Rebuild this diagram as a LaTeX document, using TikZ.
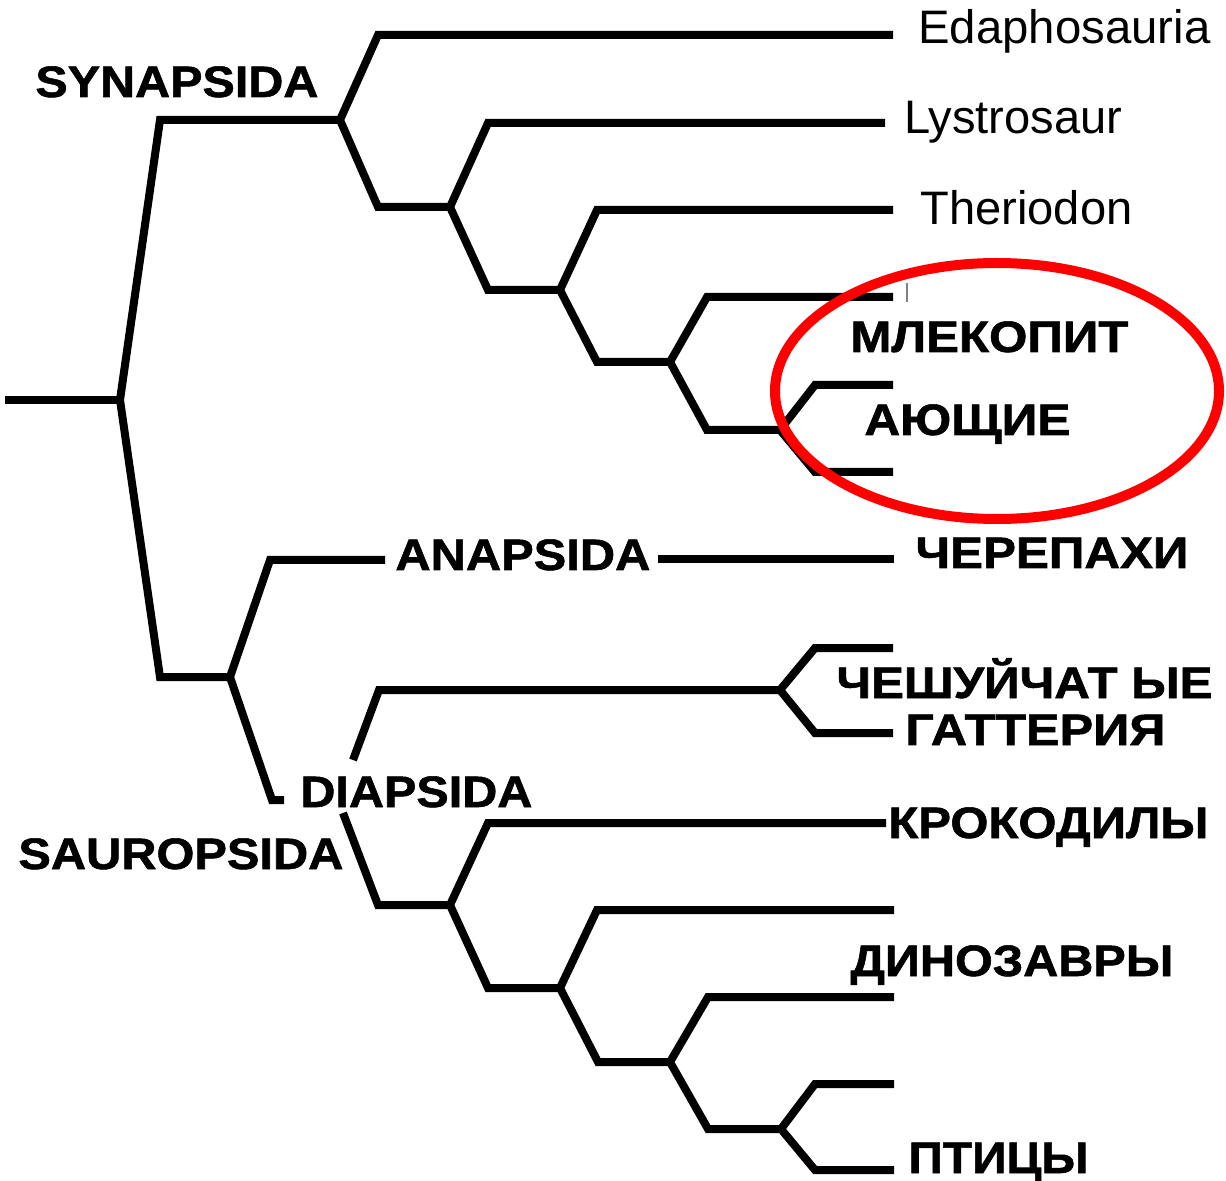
\documentclass[tikz,border=0pt]{standalone}
\usepackage{fontspec}
\setmainfont{Liberation Sans}
\newfontfamily\heavyfont[FakeBold=1.2]{Liberation Sans Bold}
\usepackage{graphicx}
\newcommand\lab[2]{\resizebox{#1pt}{\height}{#2}}
\tikzset{
  br/.style={line width=4pt, line join=miter, line cap=butt},
  reg/.style={anchor=base west, inner sep=0pt, font=\fontsize{23.5pt}{23.5pt}\selectfont},
  bld/.style={anchor=base west, inner sep=0pt, font=\fontsize{22pt}{22pt}\heavyfont},
  ring/.style={draw=red, line width=5pt}
}
\begin{document}
\begin{tikzpicture}[x=0.5pt,y=-0.5pt]
\useasboundingbox (0,0) rectangle (1226,1181);
% ---------- coordinates (px, y down)
\coordinate (r0) at (5,400);   \coordinate (n0) at (120,400);
\coordinate (s1) at (160,120); \coordinate (n1) at (340,120);
\coordinate (s2) at (160,677); \coordinate (n2) at (230,677);
% synapsida
\coordinate (a1) at (378,35);  \coordinate (t1) at (893,35);
\coordinate (b1) at (378,207); \coordinate (n3) at (450,207);
\coordinate (a2) at (488,123); \coordinate (t2) at (885,123);
\coordinate (b2) at (488,290); \coordinate (n4) at (560,290);
\coordinate (a3) at (597,210); \coordinate (t3) at (893,210);
\coordinate (b3) at (597,362); \coordinate (n5) at (670,362);
\coordinate (a4) at (707,297); \coordinate (t4) at (893,297);
\coordinate (b4) at (707,430); \coordinate (n6) at (780,430);
\coordinate (a5) at (815,385); \coordinate (t5) at (893,385);
\coordinate (b5) at (815,472); \coordinate (t6) at (893,472);
\coordinate (k1) at (907,283); \coordinate (k2) at (907,302);
% sauropsida
\coordinate (a6) at (270,560); \coordinate (e6) at (385,560);
\coordinate (f6) at (658,559); \coordinate (t7) at (894,559);
\coordinate (b6) at (272,800); \coordinate (d0) at (284,800);
\coordinate (d1) at (353,760); \coordinate (d2) at (343,813);
\coordinate (a7) at (379,690); \coordinate (n8) at (780,690);
\coordinate (a8) at (815,648); \coordinate (t8) at (893,648);
\coordinate (b8) at (815,733); \coordinate (t9) at (893,733);
\coordinate (b7) at (378,905); \coordinate (n9) at (450,905);
\coordinate (a9) at (488,823); \coordinate (t10) at (886,823);
\coordinate (b9) at (488,988); \coordinate (n10) at (560,988);
\coordinate (a10) at (597,910); \coordinate (t11) at (894,910);
\coordinate (b10) at (598,1062); \coordinate (n11) at (670,1062);
\coordinate (a11) at (708,997); \coordinate (t12) at (894,997);
\coordinate (b11) at (708,1129); \coordinate (n12) at (781,1129);
\coordinate (a12) at (815,1084); \coordinate (t13) at (894,1084);
\coordinate (b12) at (815,1170); \coordinate (t14) at (894,1170);
% ---------- branches
\draw[br] (r0) -- (n0);
\draw[br] (n1) -- (s1) -- (n0) -- (s2) -- (n2);
\draw[br] (t1) -- (a1) -- (n1) -- (b1) -- (n3);
\draw[br] (t2) -- (a2) -- (n3) -- (b2) -- (n4);
\draw[br] (t3) -- (a3) -- (n4) -- (b3) -- (n5);
\draw[br] (t4) -- (a4) -- (n5) -- (b4) -- (n6);
\draw[br] (t5) -- (a5) -- (n6) -- (b5) -- (t6);
\draw[gray, line width=0.6pt] (k1) -- (k2);
\draw[br] (e6) -- (a6) -- (n2) -- (b6) -- (d0);
\draw[br] (f6) -- (t7);
\draw[br] (d1) -- (a7) -- (n8);
\draw[br] (t8) -- (a8) -- (n8) -- (b8) -- (t9);
\draw[br] (d2) -- (b7) -- (n9);
\draw[br] (t10) -- (a9) -- (n9) -- (b9) -- (n10);
\draw[br] (t11) -- (a10) -- (n10) -- (b10) -- (n11);
\draw[br] (t12) -- (a11) -- (n11) -- (b11) -- (n12);
\draw[br] (t13) -- (a12) -- (n12) -- (b12) -- (t14);
% ---------- labels
\node[reg] (lEd) at (918,44)  {\lab{146}{Edaphosauria}};
\node[reg] (lLy) at (904,134) {\lab{109}{Lystrosaur}};
\node[reg] (lTh) at (920,225) {\lab{106}{Theriodon}};
\node[bld] (lSy) at (35,97)   {\lab{141.5}{SYNAPSIDA}};
\node[bld] (lMl) at (850,352) {\lab{139}{МЛЕКОПИТ}};
\node[bld] (lAy) at (864,435) {\lab{103}{АЮЩИЕ}};
\node[bld] (lAn) at (395,570) {\lab{127.5}{ANAPSIDA}};
\node[bld] (lCh) at (915,568) {\lab{136.5}{ЧЕРЕПАХИ}};
\node[bld] (lCs) at (836,698) {\lab{188}{ЧЕШУЙЧАТ ЫЕ}};
\node[bld] (lGa) at (905,745) {\lab{130}{ГАТТЕРИЯ}};
\node[bld] (lDi) at (300,807) {\lab{116}{DIAPSIDA}};
\node[bld] (lSa) at (18,869)  {\lab{162.5}{SAUROPSIDA}};
\node[bld] (lKr) at (888,838) {\lab{160}{КРОКОДИЛЫ}};
\node[bld] (lDn) at (850,976) {\lab{161.5}{ДИНОЗАВРЫ}};
\node[bld] (lPt) at (908,1173) {\lab{90}{ПТИЦЫ}};
% ---------- red ellipse
\draw[ring] (997,391) ellipse [x radius=222, y radius=128];
\end{tikzpicture}
\end{document}
